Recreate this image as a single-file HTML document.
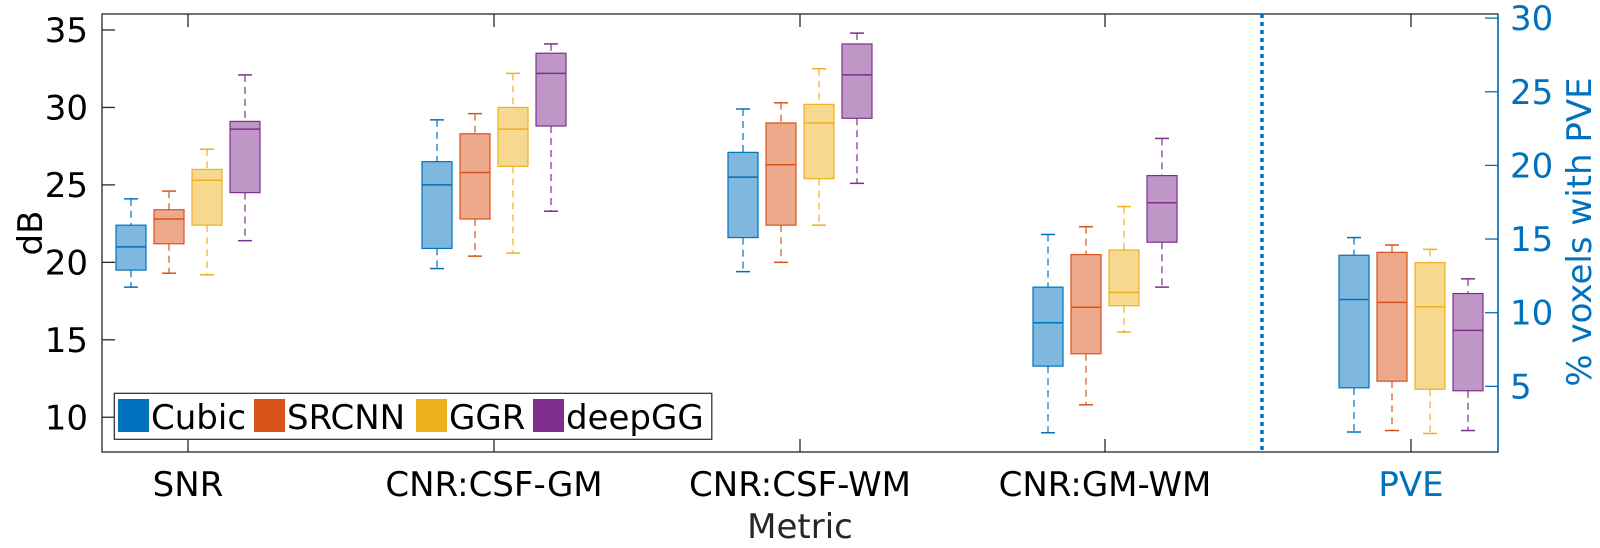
<!DOCTYPE html>
<html><head><meta charset="utf-8"><style>
html,body{margin:0;padding:0;background:#fff}
svg{display:block;font-family:"DejaVu Sans","Liberation Sans",sans-serif}
</style></head><body>
<svg id="c" width="1600" height="548" viewBox="0 0 1600 548"></svg>
<script>
const categories=["SNR","CNR:CSF-GM","CNR:CSF-WM","CNR:GM-WM","PVE"];
const methods=["Cubic","SRCNN","GGR","deepGG"];
const colors=["#0072BD","#D95319","#EDB120","#7E2F8E"];
// [low, q1, median, q3, high] per category
const cubicStats=[[18.4,19.5,21.0,22.4,24.1],[19.6,20.9,25.0,26.5,29.2],[19.4,21.6,25.5,27.1,29.9],[9.0,13.3,16.1,18.4,21.8],[1.9,4.9,10.9,13.9,15.1]];
const srcnnStats=[[19.3,21.2,22.8,23.4,24.6],[20.4,22.8,25.8,28.3,29.6],[20.0,22.4,26.3,29.0,30.3],[10.8,14.1,17.1,20.5,22.3],[2.0,5.35,10.7,14.1,14.6]];
const ggrStats=[[19.2,22.4,25.3,26.0,27.3],[20.6,26.2,28.6,30.0,32.2],[22.4,25.4,29.0,30.2,32.5],[15.5,17.2,18.05,20.8,23.6],[1.8,4.8,10.4,13.4,14.3]];
const deepStats=[[21.4,24.5,28.6,29.1,32.1],[23.3,28.8,32.2,33.5,34.1],[25.1,29.3,32.1,34.1,34.8],[18.4,21.3,23.85,25.6,28.0],[2.0,4.7,8.8,11.3,12.3]];
const leftTicks=[10,15,20,25,30,35];
const rightTicks=[5,10,15,20,25,30];
const allStats=[cubicStats,srcnnStats,ggrStats,deepStats];

const NS="http://www.w3.org/2000/svg";
const svg=document.getElementById('c');
function mk(t,a,p){const e=document.createElementNS(NS,t);for(const k in a)e.setAttribute(k,a[k]);(p||svg).appendChild(e);return e;}
const L=102,R=1498,T=14,B=452;
const yL=v=>30+(35-v)*15.49;
const yR=v=>18.1+(30-v)*14.73;
const catX=[188,494,800,1105,1411];
const xC=(ci,mi)=>catX[ci]+(mi-1.5)*38;

let ax=mk('rect',{x:L,y:T,width:R-L,height:B-T,fill:'none',stroke:'#262626','stroke-width':1.3});

let rs=mk('line',{x1:R,y1:T,x2:R,y2:B,stroke:'#0072BD','stroke-width':1.5});

leftTicks.forEach(v=>{
  const y=yL(v);
  mk('line',{x1:L,y1:y,x2:L+13,y2:y,stroke:'#262626','stroke-width':1.3});
  const t=mk('text',{x:88,y:y+12,'font-size':34,'text-anchor':'end',fill:'#000'});
  t.textContent=v;
  
});
rightTicks.forEach(v=>{
  const y=yR(v);
  mk('line',{x1:R,y1:y,x2:R-13,y2:y,stroke:'#0072BD','stroke-width':1.3});
  const t=mk('text',{x:R+12,y:y+12,'font-size':34,fill:'#0072BD'});
  t.textContent=v;
  
});
categories.forEach((c,i)=>{
  mk('line',{x1:catX[i],y1:B,x2:catX[i],y2:B-13,stroke:'#262626','stroke-width':1.3});
  mk('line',{x1:catX[i],y1:T,x2:catX[i],y2:T+13,stroke:'#262626','stroke-width':1.3});
  const t=mk('text',{x:catX[i],y:496,'font-size':34,'text-anchor':'middle',fill:i==4?'#0072BD':'#000'});
  t.textContent=c;
  
});
let dv=mk('line',{x1:1262,y1:T,x2:1262,y2:B,stroke:'#0072BD','stroke-width':3.5,'stroke-dasharray':'4 4'});


allStats.forEach((stats,mi)=>{
  stats.forEach((s,ci)=>{
    const yf=ci==4?yR:yL;
    const cx=xC(ci,mi),w=30,col=colors[mi];
    const g=mk('g',{});
    
    
    mk('line',{x1:cx,y1:yf(s[4]),x2:cx,y2:yf(s[3]),stroke:col,'stroke-width':1.2,'stroke-dasharray':'7 5'},g);
    mk('line',{x1:cx,y1:yf(s[1]),x2:cx,y2:yf(s[0]),stroke:col,'stroke-width':1.2,'stroke-dasharray':'7 5'},g);
    mk('line',{x1:cx-7,y1:yf(s[4]),x2:cx+7,y2:yf(s[4]),stroke:col,'stroke-width':1.5},g);
    mk('line',{x1:cx-7,y1:yf(s[0]),x2:cx+7,y2:yf(s[0]),stroke:col,'stroke-width':1.5},g);
    mk('rect',{x:cx-w/2,y:yf(s[3]),width:w,height:yf(s[1])-yf(s[3]),fill:col,'fill-opacity':0.5,stroke:col,'stroke-width':1.2},g);
    mk('line',{x1:cx-w/2,y1:yf(s[2]),x2:cx+w/2,y2:yf(s[2]),stroke:col,'stroke-width':1.5},g);
  });
});

const lg=mk('g',{});

mk('rect',{x:114.3,y:393.3,width:597.5,height:46,fill:'#fff',stroke:'#262626','stroke-width':1.2},lg);
const lx=[118,254,416,533],tx=[151,287,449,566];
methods.forEach((m,i)=>{
  const p=mk('rect',{x:lx[i],y:399,width:31,height:33,fill:colors[i]},lg);
  
  const t=mk('text',{x:tx[i],y:429,'font-size':34,fill:'#000'},lg);
  t.textContent=m;
  
});

let yt=mk('text',{x:0,y:0,'font-size':34,'text-anchor':'middle',transform:'translate(42,233) rotate(-90)',fill:'#000'});
yt.textContent='dB';
let xt=mk('text',{x:800,y:538,'font-size':34,'text-anchor':'middle',fill:'#262626'});
xt.textContent='Metric';
let rt=mk('text',{x:0,y:0,'font-size':34,'text-anchor':'middle',transform:'translate(1591,232) rotate(-90)',fill:'#0072BD'});
rt.textContent='% voxels with PVE';
</script>
</body></html>
